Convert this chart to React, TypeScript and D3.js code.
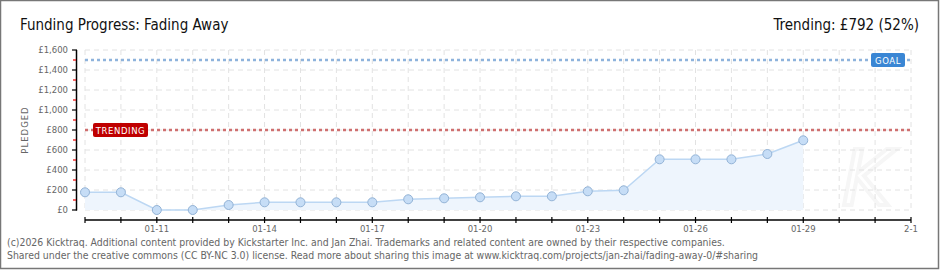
import React from "react";
import * as d3 from "d3";

const dates = ["2026-01-09","2026-01-10","2026-01-11","2026-01-12","2026-01-13","2026-01-14","2026-01-15","2026-01-16","2026-01-17","2026-01-18","2026-01-19","2026-01-20","2026-01-21","2026-01-22","2026-01-23","2026-01-24","2026-01-25","2026-01-26","2026-01-27","2026-01-28","2026-01-29"];
const pledged = [177,177,0,0,50,77,77,77,77,107,117,127,137,137,187,197,507,507,507,560,697];
const tickLabels = ["01-11","01-14","01-17","01-20","01-23","01-26","01-29","2-1"];
const tickLabelDates = ["2026-01-11","2026-01-14","2026-01-17","2026-01-20","2026-01-23","2026-01-26","2026-01-29","2026-02-01"];
const yTicks = [0,200,400,600,800,1000,1200,1400,1600];
const goal = 1500;
const trending = 792;
const title = "Funding Progress: Fading Away";
const trendText = "Trending: £792 (52%)";
const footer1 = "(c)2026 Kicktraq. Additional content provided by Kickstarter Inc. and Jan Zhai. Trademarks and related content are owned by their respective companies.";
const footer2 = "Shared under the creative commons (CC BY-NC 3.0) license. Read more about sharing this image at www.kicktraq.com/projects/jan-zhai/fading-away-0/#sharing";

const W = 940, H = 270;
const parse = d3.utcParse("%Y-%m-%d");

export default function App() {
  const x = d3.scaleUtc().domain([parse("2026-01-09")!, parse("2026-02-01")!]).range([85, 911]);
  const y = d3.scaleLinear().domain([0, 1600]).range([210, 50]);
  const pts = dates.map((d, i) => ({ x: x(parse(d)!), y: y(pledged[i]) }));
  const line = d3.line<{x:number;y:number}>().x(d => d.x).y(d => d.y)(pts) || "";
  const area = d3.area<{x:number;y:number}>().x(d => d.x).y0(y(0)).y1(d => d.y)(pts) || "";
  const days = d3.utcDay.range(parse("2026-01-09")!, d3.utcDay.offset(parse("2026-02-01")!, 1));
  const minorY = d3.range(100, 1600, 200);
  const axisFont = "'DejaVu Sans', sans-serif";
  return (
    <svg width={W} height={H} style={{ position: "absolute", left: 0, top: 0 }} xmlns="http://www.w3.org/2000/svg">
      <rect x={0.5} y={0.5} width={W - 2} height={H - 2} fill="#fff" stroke="#777" strokeWidth={1.5} />
      <text x={20} y={30} fontFamily="'DejaVu Sans Condensed', sans-serif" fontSize={15} fill="#111">{title}</text>
      <text x={919} y={30} textAnchor="end" fontFamily="'DejaVu Sans Condensed', sans-serif" fontSize={15} fill="#111">{trendText}</text>
      {/* watermark */}
      <text x={842} y={205} fontFamily="'DejaVu Sans', sans-serif" fontStyle="italic" fontSize={76} fill="none" stroke="#f6f6f6" strokeWidth={4}>K</text>
      {/* grid */}
      {yTicks.map(t => (
        <line key={"gy" + t} x1={85} x2={911} y1={y(t)} y2={y(t)} stroke="#e2e2e2" strokeDasharray="5,4" />
      ))}
      {days.map((d, i) => (
        <line key={"gx" + i} x1={x(d)} x2={x(d)} y1={50} y2={210} stroke="#e2e2e2" strokeDasharray="5,4" />
      ))}
      {/* area + line */}
      <path d={area} fill="#eef5fd" />
      <path d={line} fill="none" stroke="#bcd7f3" strokeWidth={1.5} />
      {/* goal line */}
      <line x1={85} x2={911} y1={y(goal)} y2={y(goal)} stroke="#8eb3dc" strokeWidth={2.5} strokeDasharray="3,3" />
      <line x1={85} x2={911} y1={y(trending) - 0.8} y2={y(trending) - 0.8} stroke="#cf6f6f" strokeWidth={2.5} strokeDasharray="3,3" />
      {/* labels */}
      <rect x={93} y={123} width={55} height={14} rx={2} fill="#bf0000" />
      <text x={120.5} y={133.5} textAnchor="middle" fontFamily={axisFont} fontSize={8.5} fill="#fff" letterSpacing={0.6}>TRENDING</text>
      <rect x={871} y={53} width={34} height={14} rx={2} fill="#3a86d4" />
      <text x={888} y={63.5} textAnchor="middle" fontFamily={axisFont} fontSize={8.5} fill="#fff" letterSpacing={0.6}>GOAL</text>
      {/* points */}
      {pts.map((p, i) => (
        <circle key={"p" + i} cx={p.x} cy={p.y} r={4.5} fill="#c6ddf6" stroke="#93b3d6" strokeWidth={1} />
      ))}
      {/* y axis */}
      <line x1={76.5} x2={76.5} y1={50} y2={210.5} stroke="#000" strokeWidth={1.5} />
      {yTicks.map(t => (
        <g key={"yt" + t}>
          <line x1={72} x2={77} y1={y(t)} y2={y(t)} stroke="#000" strokeWidth={1.2} />
          <text x={68} y={y(t) + 3} textAnchor="end" fontFamily={axisFont} fontSize={8.5} fill="#666">{"£" + d3.format(",")(t)}</text>
        </g>
      ))}
      {minorY.map(t => (
        <line key={"my" + t} x1={73} x2={76} y1={y(t)} y2={y(t)} stroke="#e00" strokeWidth={1.2} />
      ))}
      <text transform="translate(28,130) rotate(-90)" textAnchor="middle" fontFamily={axisFont} fontSize={8.5} fill="#666" letterSpacing={1}>PLEDGED</text>
      {/* x axis */}
      <line x1={85} x2={911} y1={220} y2={220} stroke="#000" strokeWidth={1.5} />
      {days.map((d, i) => (
        <line key={"xt" + i} x1={x(d)} x2={x(d)} y1={217} y2={223} stroke="#000" strokeWidth={1.2} />
      ))}
      {tickLabels.map((l, i) => (
        <text key={"xl" + l} x={x(parse(tickLabelDates[i])!)} y={232} textAnchor="middle" fontFamily={axisFont} fontSize={8.5} fill="#666">{l}</text>
      ))}
      {/* footer */}
      <text x={7} y={246} fontFamily="'DejaVu Sans Condensed', sans-serif" fontSize={10.4} fill="#666">{footer1}</text>
      <text x={7} y={259} fontFamily="'DejaVu Sans Condensed', sans-serif" fontSize={10.4} fill="#666">{footer2}</text>
    </svg>
  );
}
